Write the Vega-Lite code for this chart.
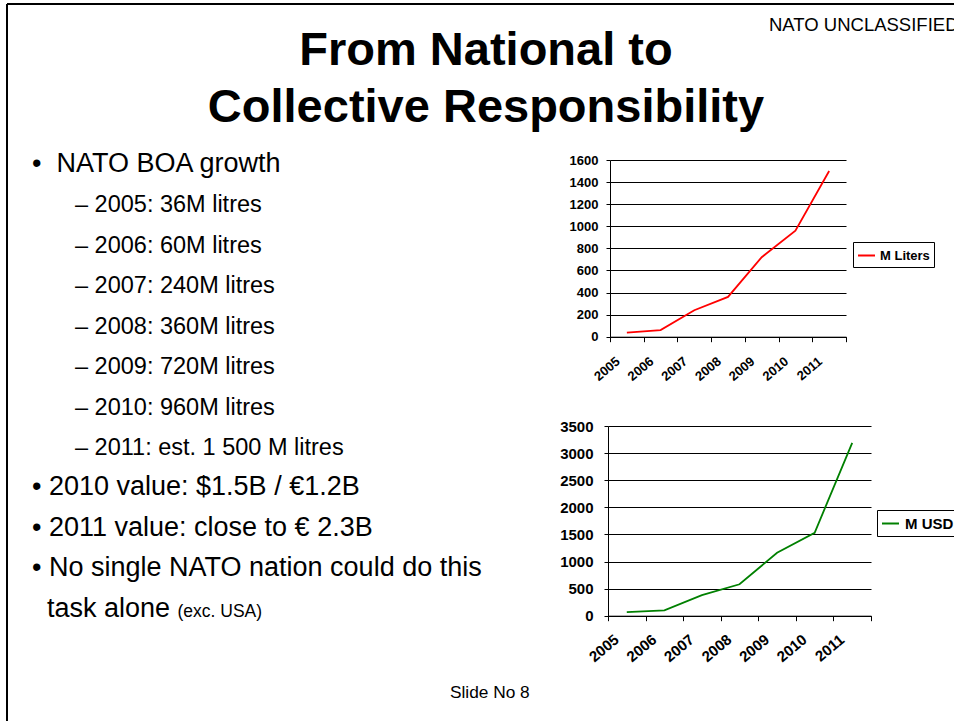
{
  "$schema": "https://vega.github.io/schema/vega-lite/v6.json",
  "width": 947,
  "height": 717,
  "autosize": "none",
  "padding": {"left": 7, "top": 4, "right": 0, "bottom": 0},
  "background": "white",
  "view": {"stroke": "black", "strokeWidth": 2, "strokeDash": [947, 1664, 717, 0], "fill": "white"},
  "config": {"font": "Liberation Sans"},
  "datasets": {
    "liters": [
      {"year": "2005", "value": 36, "series": "M Liters"},
      {"year": "2006", "value": 60, "series": "M Liters"},
      {"year": "2007", "value": 240, "series": "M Liters"},
      {"year": "2008", "value": 360, "series": "M Liters"},
      {"year": "2009", "value": 720, "series": "M Liters"},
      {"year": "2010", "value": 960, "series": "M Liters"},
      {"year": "2011", "value": 1500, "series": "M Liters"}
    ],
    "usd": [
      {"year": "2005", "value": 65, "series": "M USD"},
      {"year": "2006", "value": 100, "series": "M USD"},
      {"year": "2007", "value": 380, "series": "M USD"},
      {"year": "2008", "value": 580, "series": "M USD"},
      {"year": "2009", "value": 1160, "series": "M USD"},
      {"year": "2010", "value": 1530, "series": "M USD"},
      {"year": "2011", "value": 3190, "series": "M USD"}
    ],
    "heading": [
      {"part": "title", "line": 1, "text": "From National to"},
      {"part": "title", "line": 2, "text": "Collective Responsibility"}
    ],
    "body": [
      {"level": "main", "line": 0, "text": "•\u00a0\u00a0NATO BOA growth"},
      {"level": "main", "line": 8, "text": "• 2010 value: $1.5B / €1.2B"},
      {"level": "main", "line": 9, "text": "• 2011 value: close to € 2.3B"},
      {"level": "main", "line": 10, "text": "• No single NATO nation could do this"},
      {"level": "cont", "line": 11, "text": "task alone"}
    ],
    "subs": [
      {"level": "sub", "line": 1, "text": "– 2005: 36M litres"},
      {"level": "sub", "line": 2, "text": "– 2006: 60M litres"},
      {"level": "sub", "line": 3, "text": "– 2007: 240M litres"},
      {"level": "sub", "line": 4, "text": "– 2008: 360M litres"},
      {"level": "sub", "line": 5, "text": "– 2009: 720M litres"},
      {"level": "sub", "line": 6, "text": "– 2010: 960M litres"},
      {"level": "sub", "line": 7, "text": "– 2011: est. 1 500 M litres"},
      {"level": "note", "line": 11, "text": "(exc. USA)"}
    ],
    "small": [
      {"kind": "tag", "line": -3.5, "text": "NATO UNCLASSIFIED"},
      {"kind": "footer", "line": 13, "text": "Slide No 8"}
    ]
  },
  "layer": [
    {
      "data": {"name": "liters"},
      "mark": {"type": "line", "strokeWidth": 1.8},
      "encoding": {
        "x": {
          "field": "year", "type": "ordinal", "bandPosition": 0.5,
          "scale": {"type": "band", "range": [603, 839], "paddingInner": 0, "paddingOuter": 0},
          "axis": {"orient": "bottom", "offset": -384.3, "title": null, "labelAngle": -40, "labelAlign": "right", "labelBaseline": "top", "labelFontSize": 13, "labelFontWeight": "bold", "labelColor": "black", "tickBand": "extent", "tickSize": 5, "tickColor": "black", "domainColor": "black", "grid": false, "labelPadding": 13, "labelOffset": -13}
        },
        "y": {
          "field": "value", "type": "quantitative",
          "scale": {"domain": [0, 1600], "range": [332.7, 156], "nice": false},
          "axis": {"orient": "left", "offset": -603, "title": null, "values": [0, 200, 400, 600, 800, 1000, 1200, 1400, 1600], "format": "d", "grid": true, "gridColor": "black", "gridOpacity": 1, "domainColor": "black", "tickColor": "black", "tickSize": 4, "labelFontSize": 13, "labelFontWeight": "bold", "labelColor": "black", "labelPadding": 8}
        },
        "color": {
          "field": "series", "type": "nominal",
          "scale": {"domain": ["M Liters"], "range": ["#FF0000"]},
          "legend": {"orient": "none", "legendX": 846, "legendY": 238, "title": null, "strokeColor": "black", "fillColor": "white", "padding": 4, "labelFontSize": 13, "labelFontWeight": "bold", "labelColor": "black", "symbolType": "stroke", "symbolStrokeWidth": 2, "symbolSize": 289, "labelOffset": 4}
        }
      }
    },
    {
      "data": {"name": "usd"},
      "mark": {"type": "line", "strokeWidth": 1.8},
      "encoding": {
        "x": {
          "field": "year", "type": "ordinal", "bandPosition": 0.5,
          "scale": {"type": "band", "range": [601, 864], "paddingInner": 0, "paddingOuter": 0},
          "axis": {"orient": "bottom", "offset": -105.3, "title": null, "labelAngle": -40, "labelAlign": "right", "labelBaseline": "top", "labelFontSize": 15, "labelFontWeight": "bold", "labelColor": "black", "tickBand": "extent", "tickSize": 5, "tickColor": "black", "domainColor": "black", "grid": false, "labelPadding": 11, "labelOffset": -15}
        },
        "y": {
          "field": "value", "type": "quantitative",
          "scale": {"domain": [0, 3500], "range": [611.7, 422], "nice": false},
          "axis": {"orient": "left", "offset": -601, "title": null, "values": [0, 500, 1000, 1500, 2000, 2500, 3000, 3500], "format": "d", "grid": true, "gridColor": "black", "gridOpacity": 1, "domainColor": "black", "tickColor": "black", "tickSize": 4, "labelFontSize": 15, "labelFontWeight": "bold", "labelColor": "black", "labelPadding": 11}
        },
        "color": {
          "field": "series", "type": "nominal",
          "scale": {"domain": ["M USD"], "range": ["#008000"]},
          "legend": {"orient": "none", "legendX": 870, "legendY": 506, "title": null, "strokeColor": "black", "fillColor": "white", "padding": 4, "labelFontSize": 15, "labelFontWeight": "bold", "labelColor": "black", "symbolType": "stroke", "symbolStrokeWidth": 2, "symbolSize": 289, "labelOffset": 5}
        }
      }
    },
    {
      "data": {"name": "heading"},
      "mark": {"type": "text", "align": "center", "baseline": "alphabetic", "fontSize": 47, "fontWeight": "bold", "color": "black"},
      "encoding": {
        "x": {"field": "part", "type": "nominal", "scale": {"type": "point", "domain": ["title"], "range": [479, 479], "padding": 0}, "axis": null},
        "y": {"field": "line", "type": "quantitative", "scale": {"domain": [1, 2], "range": [61, 118]}, "axis": null},
        "text": {"field": "text"}
      }
    },
    {
      "data": {"name": "body"},
      "mark": {"type": "text", "align": "left", "baseline": "alphabetic", "fontSize": 27, "color": "black"},
      "encoding": {
        "x": {"field": "level", "type": "nominal", "scale": {"type": "point", "domain": ["main", "cont"], "range": [25, 40], "padding": 0}, "axis": null},
        "y": {"field": "line", "type": "quantitative", "scale": {"domain": [0, 11], "range": [168, 612.7]}, "axis": null},
        "text": {"field": "text"}
      }
    },
    {
      "data": {"name": "subs"},
      "mark": {"type": "text", "align": "left", "baseline": "alphabetic", "color": "black"},
      "encoding": {
        "x": {"field": "level", "type": "nominal", "scale": {"type": "point", "domain": ["sub", "note"], "range": [68, 170.5], "padding": 0}, "axis": null},
        "y": {"field": "line", "type": "quantitative", "scale": {"domain": [0, 11], "range": [168, 612.7]}, "axis": null},
        "size": {"field": "level", "type": "nominal", "scale": {"type": "point", "domain": ["sub", "note"], "range": [23.5, 17.5], "padding": 0}, "legend": null},
        "text": {"field": "text"}
      }
    },
    {
      "data": {"name": "small"},
      "mark": {"type": "text", "align": "left", "baseline": "alphabetic", "color": "black"},
      "encoding": {
        "x": {"field": "kind", "type": "nominal", "scale": {"type": "point", "domain": ["footer", "tag"], "range": [443, 762], "padding": 0}, "axis": null},
        "y": {"field": "line", "type": "quantitative", "scale": {"domain": [0, 11], "range": [168, 612.7]}, "axis": null},
        "size": {"field": "kind", "type": "nominal", "scale": {"type": "point", "domain": ["footer", "tag"], "range": [17.3, 18.5], "padding": 0}, "legend": null},
        "text": {"field": "text"}
      }
    }
  ],
  "resolve": {
    "scale": {"x": "independent", "y": "independent", "color": "independent", "size": "independent"},
    "axis": {"x": "independent", "y": "independent"},
    "legend": {"color": "independent", "size": "independent"}
  }
}
